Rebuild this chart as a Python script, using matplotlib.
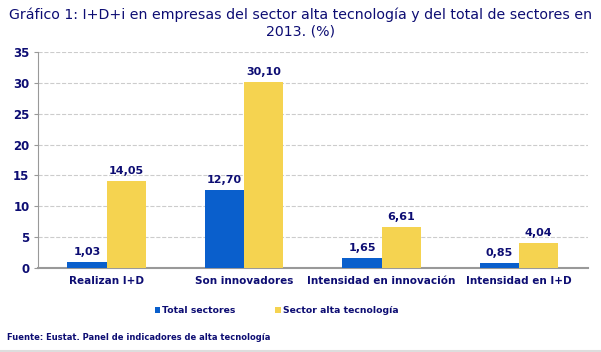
import matplotlib.pyplot as plt
import numpy as np

categorias = ["Realizan I+D", "Son innovadores", "Intensidad en innovación", "Intensidad en I+D"]
total_sectores = [1.03, 12.70, 1.65, 0.85]
alta_tecnologia = [14.05, 30.10, 6.61, 4.04]
series = ["Total sectores", "Sector alta tecnología"]
yticks = [0, 5, 10, 15, 20, 25, 30, 35]

navy = "#0d0d73"
azul = "#0a5fcc"
amarillo = "#f5d350"

fig = plt.figure(figsize=(6.01, 3.52), dpi=100)
ax = fig.add_axes([0.063, 0.239, 0.915, 0.613])

x = np.arange(len(categorias))
w = 0.285
b1 = ax.bar(x - w/2, total_sectores, w, color=azul, label=series[0], zorder=3)
b2 = ax.bar(x + w/2, alta_tecnologia, w, color=amarillo, label=series[1], zorder=3)

for bars, vals in [(b1, total_sectores), (b2, alta_tecnologia)]:
    for r, v in zip(bars, vals):
        ax.text(r.get_x() + r.get_width()/2, v + 0.8, f"{v:.2f}".replace(".", ","),
                ha="center", va="bottom", fontsize=8, color=navy, fontweight="bold")

ax.set_xlim(-0.5, len(categorias) - 0.5)
ax.set_ylim(0, 35)
ax.set_yticks(yticks)
ax.set_yticklabels([str(t) for t in yticks], fontsize=8.5, color=navy, fontweight="bold")
ax.set_xticks(x)
ax.set_xticklabels(categorias, fontsize=7.5, color=navy, fontweight="bold")
ax.tick_params(axis="x", length=0, pad=6)
ax.tick_params(axis="y", length=3, color="#999999", pad=3)
ax.yaxis.grid(True, color="#cccccc", linestyle="--", linewidth=0.8, zorder=0)
for s in ["top", "right"]:
    ax.spines[s].set_visible(False)
ax.spines["left"].set_color("#999999")
ax.spines["bottom"].set_color("#999999")
ax.spines["bottom"].set_linewidth(1.5)

fig.text(0.5, 0.935, "Gráfico 1: I+D+i en empresas del sector alta tecnología y del total de sectores en\n2013. (%)",
         ha="center", va="center", fontsize=10.2, color=navy, linespacing=1.25)

fig.legend(handles=[b1, b2], labels=series, loc="center", bbox_to_anchor=(0.46, 0.118), ncol=2,
           frameon=False, handlelength=0.6, handleheight=0.6, handletextpad=0.2,
           columnspacing=4.3, labelcolor=navy, prop={"weight": "bold", "size": 6.7})

fig.text(0.012, 0.042, "Fuente: Eustat. Panel de indicadores de alta tecnología", fontsize=6,
         color=navy, fontweight="bold", ha="left", va="center")

fig.add_artist(plt.Line2D([0, 1], [0.004, 0.004], color="#dddddd", linewidth=1.5,
                          transform=fig.transFigure))

fig.savefig("out.png", dpi=100)
